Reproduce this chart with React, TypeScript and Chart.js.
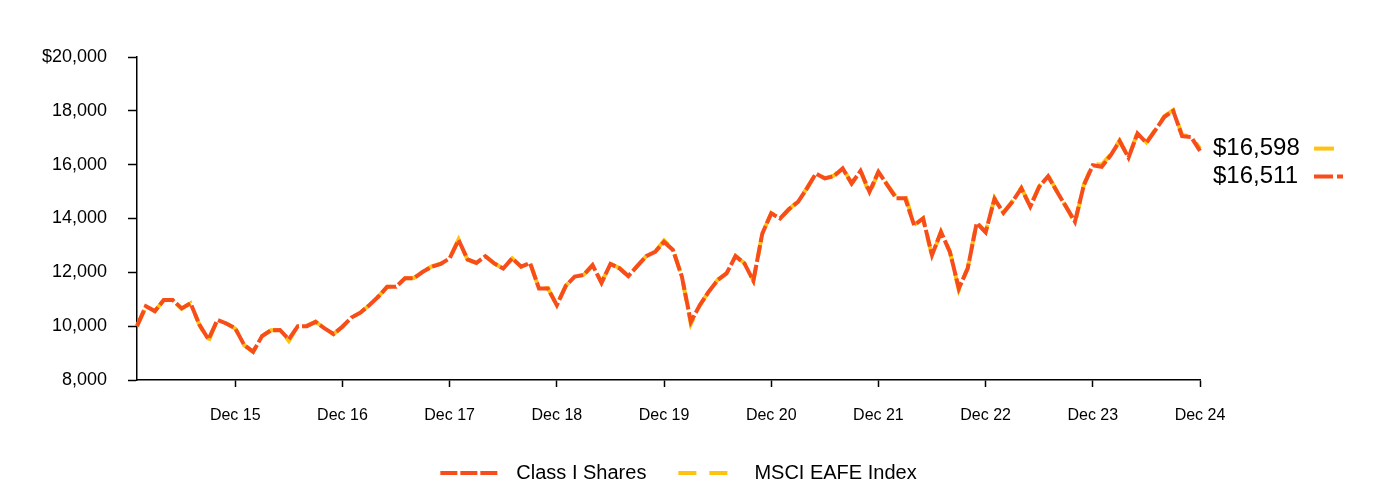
import { useEffect, useRef } from 'react';
import { Chart, registerables } from 'chart.js';

Chart.register(...registerables);

const FONT = "'Liberation Sans', Arial, Helvetica, sans-serif";
const ORANGE = '#F74D1B';
const YELLOW = '#FFC20E';

const monthNames = ['Jan', 'Feb', 'Mar', 'Apr', 'May', 'Jun', 'Jul', 'Aug', 'Sep', 'Oct', 'Nov', 'Dec'];
const years = [15, 16, 17, 18, 19, 20, 21, 22, 23, 24];
const months: string[] = [];
years.forEach((y) => monthNames.forEach((m) => months.push(`${m} ${y}`)));

const xTickLabels = ['Dec 15', 'Dec 16', 'Dec 17', 'Dec 18', 'Dec 19', 'Dec 20', 'Dec 21', 'Dec 22', 'Dec 23', 'Dec 24'];
const yTickValues = [8000, 10000, 12000, 14000, 16000, 18000, 20000];

const classIShares = [
  10000, 10740, 10560, 10970, 10970, 10660, 10850, 10050, 9510, 10230, 10100, 9920,
  9300, 9050, 9630, 9850, 9860, 9510, 10000, 10000, 10160, 9920, 9710, 9980,
  10320, 10500, 10780, 11090, 11460, 11460, 11780, 11780, 12020, 12210, 12310, 12520,
  13200, 12480, 12350, 12600, 12330, 12140, 12520, 12210, 12350, 11400, 11400, 10780,
  11500, 11840, 11900, 12270, 11610, 12310, 12150, 11860, 12230, 12600, 12760, 13130,
  12830, 11840, 10160, 10780, 11280, 11710, 11960, 12600, 12330, 11690, 13440, 14190,
  14000, 14350, 14620, 15120, 15670, 15490, 15570, 15860, 15300, 15770, 14990, 15730,
  15240, 14750, 14750, 13750, 14000, 12640, 13500, 12760, 11400, 12150, 13830, 13490,
  14730, 14210, 14620, 15120, 14440, 15180, 15570, 14990, 14440, 13880, 15240, 15980,
  15920, 16350, 16880, 16260, 17160, 16810, 17280, 17770, 18000, 17060, 17030, 16511,
];

const msciEafe = [
  10000, 10740, 10560, 10970, 10970, 10650, 10850, 10040, 9450, 10230, 10100, 9910,
  9290, 9050, 9640, 9850, 9860, 9450, 10010, 10010, 10170, 9920, 9700, 9990,
  10320, 10500, 10780, 11100, 11460, 11470, 11780, 11790, 12030, 12220, 12320, 12530,
  13230, 12470, 12350, 12600, 12330, 12140, 12520, 12210, 12360, 11400, 11410, 10780,
  11500, 11840, 11910, 12270, 11620, 12320, 12160, 11860, 12240, 12600, 12770, 13180,
  12850, 11830, 10080, 10770, 11280, 11720, 11970, 12610, 12340, 11700, 13440, 14200,
  14000, 14350, 14630, 15130, 15680, 15500, 15590, 15880, 15310, 15780, 14900, 15750,
  15250, 14800, 14880, 13760, 14010, 12600, 13510, 12770, 11350, 12170, 13860, 13500,
  14760, 14230, 14640, 15140, 14450, 15200, 15590, 15000, 14450, 13820, 15260, 16030,
  16000, 16380, 16900, 16280, 17180, 16830, 17300, 17800, 18030, 17090, 17060, 16598,
];

const isXTick = (i: number) => xTickLabels.includes(months[i]);
const fmt = (v: number) => v.toLocaleString('en-US');

const endLabels = {
  id: 'endLabels',
  afterDraw(chart: any) {
    const { ctx, chartArea } = chart;
    const yS = chart.scales.y;
    const lastM = msciEafe[msciEafe.length - 1];
    const lastC = classIShares[classIShares.length - 1];
    const yM = yS.getPixelForValue(lastM);
    let yC = yS.getPixelForValue(lastC);
    if (yC - yM < 28) yC = yM + 28;
    const tx = chartArea.right + 13;
    const dx = tx + 101;
    ctx.save();
    ctx.font = `24px ${FONT}`;
    ctx.fillStyle = '#000';
    ctx.textAlign = 'left';
    ctx.textBaseline = 'middle';
    ctx.fillText('$' + fmt(lastM), tx, yM);
    ctx.fillText('$' + fmt(lastC), tx, yC);
    ctx.lineWidth = 4;
    ctx.strokeStyle = YELLOW;
    ctx.setLineDash([20, 12]);
    ctx.beginPath();
    ctx.moveTo(dx, yM);
    ctx.lineTo(dx + 20, yM);
    ctx.stroke();
    ctx.strokeStyle = ORANGE;
    ctx.setLineDash([19, 4]);
    ctx.beginPath();
    ctx.moveTo(dx, yC);
    ctx.lineTo(dx + 29, yC);
    ctx.stroke();
    ctx.restore();
  },
};

const customLegend = {
  id: 'customLegend',
  afterDraw(chart: any) {
    const { ctx } = chart;
    const items = [
      { text: 'Class I Shares', color: ORANGE, dash: [17, 3] },
      { text: 'MSCI EAFE Index', color: YELLOW, dash: [18, 13] },
    ];
    const boxW = 58;
    const gapText = 18;
    const gapItem = 32;
    const y = 473;
    ctx.save();
    ctx.font = `20px ${FONT}`;
    const widths = items.map((it) => ctx.measureText(it.text).width);
    const total = items.reduce((s, _it, i) => s + boxW + gapText + widths[i], 0) + gapItem * (items.length - 1);
    let x = 678.5 - total / 2;
    items.forEach((it, i) => {
      ctx.strokeStyle = it.color;
      ctx.lineWidth = 4;
      ctx.setLineDash(it.dash);
      ctx.beginPath();
      ctx.moveTo(x, y);
      ctx.lineTo(x + boxW, y);
      ctx.stroke();
      ctx.setLineDash([]);
      ctx.fillStyle = '#000';
      ctx.textAlign = 'left';
      ctx.textBaseline = 'middle';
      ctx.fillText(it.text, x + boxW + gapText, y);
      x += boxW + gapText + widths[i] + gapItem;
    });
    ctx.restore();
  },
};

export default function App() {
  const ref = useRef<HTMLCanvasElement>(null);
  useEffect(() => {
    document.body.style.margin = '0';
    const tickColor = (c: any) => (isXTick(c.index) ? '#000' : 'rgba(0,0,0,0)');
    const chart = new Chart(ref.current as HTMLCanvasElement, {
      type: 'line',
      data: {
        labels: months,
        datasets: [
          {
            label: 'Class I Shares',
            data: classIShares,
            borderColor: ORANGE,
            backgroundColor: ORANGE,
            borderWidth: 4,
            borderDash: [17, 3],
            pointRadius: 0,
            tension: 0,
            fill: false,
          },
          {
            label: 'MSCI EAFE Index',
            data: msciEafe,
            borderColor: YELLOW,
            backgroundColor: YELLOW,
            borderWidth: 4,
            borderDash: [18, 12],
            pointRadius: 0,
            tension: 0,
            fill: false,
          },
        ],
      },
      options: {
        animation: false,
        responsive: false,
        maintainAspectRatio: false,
        layout: { padding: { top: 57, right: 184, bottom: 59, left: 0 } },
        plugins: { legend: { display: false }, tooltip: { enabled: false } },
        scales: {
          x: {
            type: 'category',
            offset: false,
            grid: {
              drawOnChartArea: false,
              drawTicks: true,
              tickLength: 7,
              color: tickColor,
              tickColor: tickColor,
              tickWidth: 1.5,
            },
            border: { display: true, color: '#000', width: 1.5 },
            ticks: {
              autoSkip: false,
              maxRotation: 0,
              minRotation: 0,
              padding: 19,
              color: '#000',
              font: { family: FONT, size: 16 },
              callback: (_v: any, i: number) => (isXTick(i) ? months[i] : ''),
            },
            afterFit: (s: any) => {
              s.height = 50;
            },
          },
          y: {
            min: yTickValues[0],
            max: yTickValues[yTickValues.length - 1],
            afterBuildTicks: (s: any) => {
              s.ticks = yTickValues.map((v) => ({ value: v }));
            },
            grid: { drawOnChartArea: false, drawTicks: true, tickLength: 9, color: '#000', tickWidth: 1.5 },
            border: { display: true, color: '#000', width: 1.5 },
            ticks: {
              padding: 21,
              color: '#000',
              font: { family: FONT, size: 18 },
              callback: (v: any) => (v === 20000 ? '$' + fmt(v) : fmt(Number(v))),
            },
            afterFit: (s: any) => {
              s.width = 137;
            },
          },
        },
      } as any,
      plugins: [endLabels, customLegend],
    });
    return () => chart.destroy();
  }, []);
  return (
    <div style={{ width: 1384, height: 489 }}>
      <canvas ref={ref} width={1384} height={489} style={{ display: 'block' }} />
    </div>
  );
}
